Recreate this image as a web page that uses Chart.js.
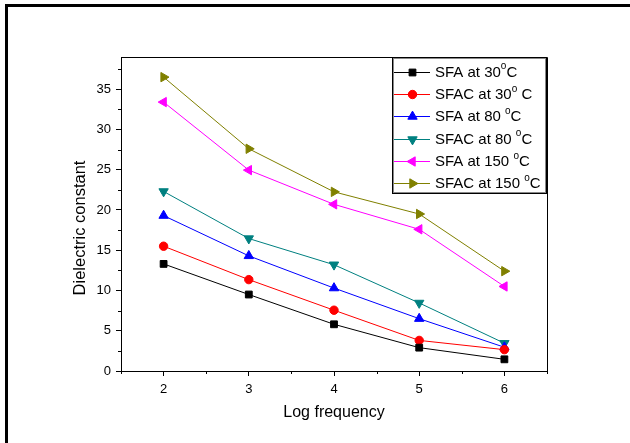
<!DOCTYPE html>
<html>
<head>
<meta charset="utf-8">
<script src="https://cdn.jsdelivr.net/npm/chart.js@4.4.1/dist/chart.umd.min.js"></script>
<style>
  html, body { margin: 0; padding: 0; background: #fff; }
  canvas { display: block; }
</style>
</head>
<body>
<canvas id="c" width="630" height="443"></canvas>
<script>
// ---- data ----
const logFrequency = [2, 3, 4, 5, 6];
const sfa30   = [13.3, 9.5, 5.8, 2.9, 1.45];
const sfac30  = [15.5, 11.35, 7.55, 3.8, 2.65];
const sfa80   = [19.3, 14.3, 10.3, 6.5, 2.95];
const sfac80  = [22.3, 16.45, 13.2, 8.45, 3.45];
const sfa150  = [33.4, 24.95, 20.7, 17.6, 10.5];
const sfac150 = [36.5, 27.6, 22.25, 19.5, 12.4];
const xTicks = [2, 3, 4, 5, 6];
const yTicks = [0, 5, 10, 15, 20, 25, 30, 35];
const xMinorTicks = [1.5, 2.5, 3.5, 4.5, 5.5, 6.5];
const yMinorTicks = [2.5, 7.5, 12.5, 17.5, 22.5, 27.5, 32.5, 37.5];
const legendMain = ['SFA at 30', 'SFAC at 30', 'SFA at 80 ', 'SFAC at 80 ', 'SFA at 150 ', 'SFAC at 150 '];
const legendSup  = ['o', 'o', 'o', 'o', 'o', 'o'];
const legendTail = ['C', ' C', 'C', 'C', 'C', 'C'];
const xTitle = 'Log frequency';
const yTitle = 'Dielectric constant';

const seriesDefs = [
  { values: sfa30,   color: '#000000', style: 'rect',     rot: 0,   r: 4.8 },
  { values: sfac30,  color: '#ff0000', style: 'circle',   rot: 0,   r: 4.2 },
  { values: sfa80,   color: '#0000ff', style: 'triangle', rot: 0,   r: 5.4 },
  { values: sfac80,  color: '#008080', style: 'triangle', rot: 180, r: 5.4 },
  { values: sfa150,  color: '#ff00ff', style: 'triangle', rot: 270, r: 5.4 },
  { values: sfac150, color: '#808000', style: 'triangle', rot: 90,  r: 5.4 }
];

const datasets = seriesDefs.map((s, i) => ({
  label: legendMain[i] + legendSup[i] + legendTail[i],
  data: logFrequency.map((x, j) => ({ x: x, y: s.values[j] })),
  borderColor: s.color,
  backgroundColor: s.color,
  borderWidth: 1,
  pointStyle: s.style,
  pointRotation: s.rot,
  pointRadius: s.r,
  pointBorderWidth: 1,
  pointBackgroundColor: s.color,
  pointBorderColor: s.color,
  tension: 0
}));

const FONT = "'Liberation Sans', Arial, sans-serif";

const decor = {
  id: 'decor',
  beforeDraw(chart) {
    const ctx = chart.ctx;
    ctx.save();
    ctx.fillStyle = '#fff';
    ctx.fillRect(0, 0, chart.width, chart.height);
    ctx.restore();
  },
  afterDraw(chart) {
    const ctx = chart.ctx;
    const a = chart.chartArea;
    const xs = chart.scales.x, ys = chart.scales.y;
    ctx.save();
    // outer frame
    ctx.fillStyle = '#000';
    ctx.fillRect(5, 4, 625, 3);
    ctx.fillRect(5, 4, 3, 439);
    // plot box top/right
    ctx.strokeStyle = '#000';
    ctx.lineWidth = 1;
    ctx.beginPath();
    ctx.moveTo(Math.round(a.left) + 0.5, Math.round(a.top) + 0.5);
    ctx.lineTo(Math.round(a.right) + 0.5, Math.round(a.top) + 0.5);
    ctx.lineTo(Math.round(a.right) + 0.5, Math.round(a.bottom) + 0.5);
    ctx.stroke();
    // minor ticks
    ctx.beginPath();
    xMinorTicks.forEach(v => {
      const px = Math.round(xs.getPixelForValue(v)) + 0.5;
      ctx.moveTo(px, a.bottom);
      ctx.lineTo(px, a.bottom + 3);
    });
    yMinorTicks.forEach(v => {
      const py = Math.round(ys.getPixelForValue(v)) + 0.5;
      ctx.moveTo(a.left, py);
      ctx.lineTo(a.left - 3, py);
    });
    ctx.stroke();

    // y axis title
    ctx.save();
    ctx.translate(80, 228);
    ctx.rotate(-Math.PI / 2);
    ctx.fillStyle = '#000';
    ctx.font = '16.5px ' + FONT;
    ctx.textAlign = 'center';
    ctx.textBaseline = 'middle';
    ctx.fillText(yTitle, 0, 0);
    ctx.restore();

    // legend
    const lx0 = 392, ly0 = 57, lx1 = 546, ly1 = 193;
    ctx.fillStyle = '#fff';
    ctx.fillRect(lx0, ly0, lx1 - lx0, ly1 - ly0);
    ctx.strokeStyle = '#000';
    ctx.lineWidth = 1;
    ctx.strokeRect(lx0 + 0.5, ly0 + 0.5, lx1 - lx0, ly1 - ly0);
    ctx.strokeStyle = '#888';
    ctx.strokeRect(lx0 + 1.5, ly0 + 1.5, lx1 - lx0 - 2, ly1 - ly0 - 2);
    seriesDefs.forEach((s, i) => {
      const y = 71.7 + i * 22.3;
      ctx.strokeStyle = s.color;
      ctx.lineWidth = 1;
      ctx.beginPath();
      ctx.moveTo(394, Math.round(y) + 0.5);
      ctx.lineTo(430, Math.round(y) + 0.5);
      ctx.stroke();
      ctx.fillStyle = s.color;
      ctx.strokeStyle = s.color;
      Chart.helpers.drawPoint(ctx, { pointStyle: s.style, rotation: s.rot, radius: s.r, borderWidth: 1 }, 412.5, Math.round(y) + 0.5);
      ctx.fillStyle = '#000';
      ctx.textBaseline = 'middle';
      ctx.textAlign = 'left';
      ctx.font = '15px ' + FONT;
      let tx = 435;
      ctx.fillText(legendMain[i], tx, y + 1);
      tx += ctx.measureText(legendMain[i]).width;
      ctx.font = '10px ' + FONT;
      ctx.fillText(legendSup[i], tx, y - 5);
      tx += ctx.measureText(legendSup[i]).width;
      ctx.font = '15px ' + FONT;
      ctx.fillText(legendTail[i], tx, y + 1);
    });
    ctx.restore();
  }
};

new Chart(document.getElementById('c'), {
  type: 'line',
  data: { datasets: datasets },
  options: {
    responsive: false,
    animation: false,
    devicePixelRatio: 1,
    layout: { padding: { left: 0, top: 57, right: 83, bottom: 0 } },
    plugins: { legend: { display: false }, tooltip: { enabled: false } },
    scales: {
      x: {
        type: 'linear',
        min: 1.5, max: 6.5,
        afterBuildTicks: s => { s.ticks = xTicks.map(v => ({ value: v })); },
        afterFit: s => { s.height = 72; },
        grid: { drawOnChartArea: false, tickLength: 5, color: '#000', tickColor: '#000' },
        border: { color: '#000', width: 1 },
        ticks: { color: '#000', padding: 6, font: { family: FONT, size: 13 }, maxRotation: 0 },
        title: { display: true, text: xTitle, color: '#000', font: { family: FONT, size: 16 }, padding: { top: 0, bottom: 21 } }
      },
      y: {
        type: 'linear',
        min: 0, max: 39,
        afterBuildTicks: s => { s.ticks = yTicks.map(v => ({ value: v })); },
        afterFit: s => { s.width = 121; },
        grid: { drawOnChartArea: false, tickLength: 5, color: '#000', tickColor: '#000' },
        border: { color: '#000', width: 1 },
        ticks: { color: '#000', padding: 5, font: { family: FONT, size: 13 } },
        title: { display: false, text: yTitle }
      }
    }
  },
  plugins: [decor]
});
</script>
</body>
</html>
